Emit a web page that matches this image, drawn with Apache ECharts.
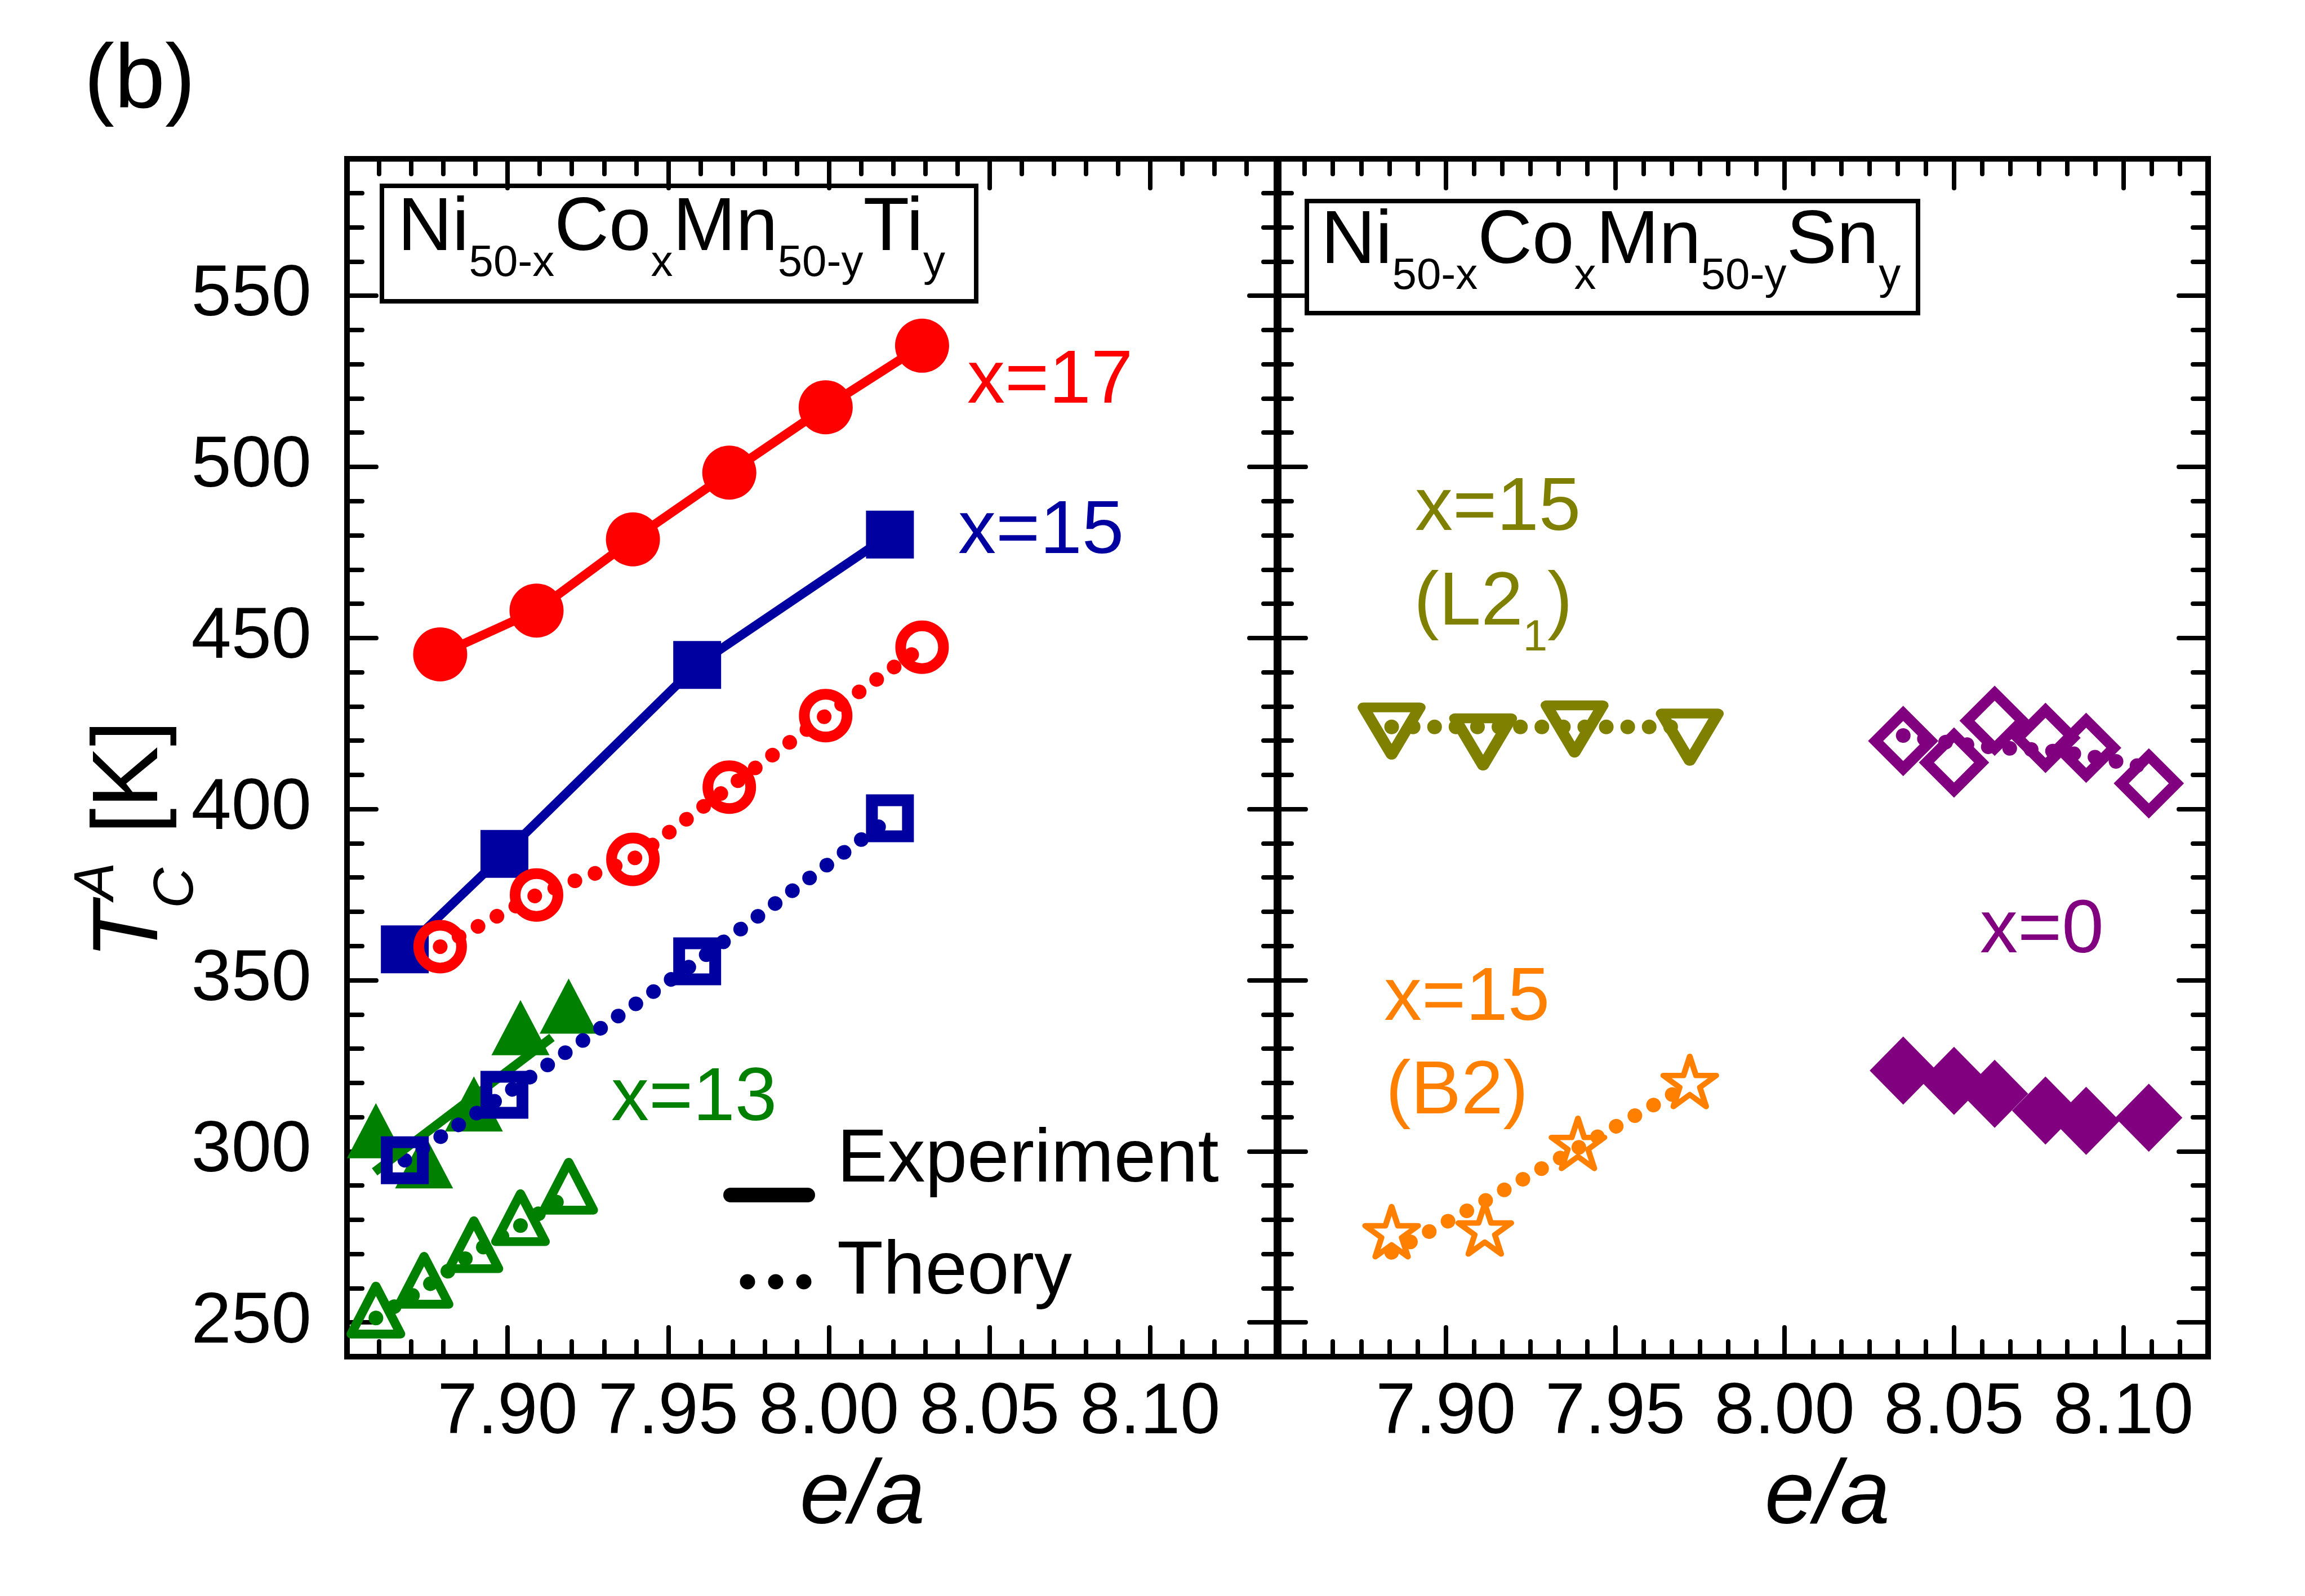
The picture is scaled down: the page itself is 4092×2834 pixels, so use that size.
<!DOCTYPE html>
<html>
<head>
<meta charset="utf-8">
<script src="https://cdn.jsdelivr.net/npm/echarts@6/dist/echarts.min.js"></script>
<style>
html,body{margin:0;padding:0;background:#ffffff;}
#chart{width:4092px;height:2834px;}
</style>
</head>
<body>
<div id="chart"></div>
<script>
// ---------------- axis ranges and tick labels ----------------
const yRange = [240, 590];
const yTickValues = [250, 300, 350, 400, 450, 500, 550];
const xRangeTi = [7.85, 8.14];
const xRangeSn = [7.85, 8.125];
const xTickValues = [7.90, 7.95, 8.00, 8.05, 8.10];

// ---------------- left panel: Ni50-xCoxMn50-yTiy ----------------
const tiX17Exp = [[7.879, 445.2], [7.909, 458.0], [7.939, 478.8], [7.969, 498.3], [7.999, 517.4], [8.029, 535.4]];
const tiX15Exp = [[7.868, 359.0], [7.899, 386.9], [7.959, 442.1], [8.019, 480.2]];
const tiX13Exp = [[7.859, 303.4], [7.874, 294.6], [7.8895, 311.2], [7.904, 333.5], [7.919, 339.8]];
const tiX13ExpFit = [[7.8586, 294.0], [7.9138, 333.3]];
const tiX17Theory = [[7.879, 359.8], [7.909, 374.9], [7.939, 385.3], [7.969, 406.4], [7.999, 427.3], [8.029, 447.3]];
const tiX15Theory = [[7.868, 297.4], [7.899, 316.5], [7.959, 355.5], [8.019, 397.3]];
const tiX13Theory = [[7.859, 251.3], [7.874, 260.0], [7.8895, 270.4], [7.904, 278.3], [7.919, 287.5]];

// ---------------- right panel: Ni50-xCoxMn50-ySny ----------------
const snX15L21 = [[7.884, 425.1], [7.911, 421.9], [7.938, 425.7], [7.972, 423.3]];
const snX15L21Theory = [[7.884, 424.0], [7.911, 424.0], [7.938, 424.0], [7.972, 424.0]];
const snX15B2 = [[7.884, 275.7], [7.9115, 276.5], [7.939, 301.5], [7.972, 319.6]];
const snX15B2Theory = [[7.884, 270.5], [7.9115, 285.5], [7.939, 301.0], [7.972, 319.5]];
const snX0Open = [[8.035, 419.9], [8.050, 413.6], [8.062, 425.8], [8.077, 420.8], [8.089, 417.9], [8.1075, 407.5]];
const snX0Theory = [[8.035, 421.5], [8.050, 419.2], [8.062, 418.0], [8.077, 417.2], [8.089, 415.7], [8.1075, 412.0]];
const snX0Exp = [[8.035, 323.6], [8.050, 320.6], [8.062, 316.8], [8.077, 311.9], [8.089, 308.9], [8.1075, 309.8]];

// ---------------- styling ----------------
const FONT = '"Liberation Sans", Arial, Helvetica, sans-serif';
const RED = '#ff0000', BLUE = '#0000a0', GREEN = '#008000', OLIVE = '#808000',
      ORANGE = '#ff8000', PURPLE = '#800080', BLACK = '#000000', NONE = 'rgba(0,0,0,0)';
const TRI_UP = 'path://M50,0L100,100L0,100Z';
const TRI_DOWN = 'path://M0,0L100,0L50,100Z';
const STAR = 'path://M0,-1000L224.5,-309L951.1,-309L363.3,118L587.8,809L0,382L-587.8,809L-363.3,118L-951.1,-309L-224.5,-309Z';
const DOTS = [0.1, 38];

function minorTicks(min, max, step, majorStep) {
  const out = [];
  const n = Math.round((max - min) / step);
  for (let k = 1; k < n; k++) {
    const v = +(min + k * step).toFixed(6);
    const r = v / majorStep;
    if (Math.abs(r - Math.round(r)) > 1e-6) out.push(v);
  }
  return out;
}
const yMinor = minorTicks(yRange[0], yRange[1], 10, 50);
const xMinorTi = minorTicks(xRangeTi[0], xRangeTi[1], 0.01, 0.05);
const xMinorSn = minorTicks(xRangeSn[0], xRangeSn[1], 0.05 / 6, 0.05);

const grids = [
  {left: 616, top: 282, width: 1654, height: 2127},
  {left: 2266, top: 282, width: 1654, height: 2127}
];

function axis(gridIndex, position, range, ticks, major, opts) {
  const a = {
    type: 'value', gridIndex, position, min: range[0], max: range[1],
    splitLine: {show: false}, minorTick: {show: false}, axisPointer: {show: false},
    axisLine: {show: major, onZero: false, lineStyle: {color: BLACK, width: 10, cap: 'square'}},
    axisTick: {show: true, inside: true, length: major ? 52 : 27, customValues: ticks,
               lineStyle: {color: BLACK, width: 8, cap: 'round'}},
    axisLabel: {show: false}
  };
  return Object.assign(a, opts || {});
}
const xLabel = {show: true, customValues: xTickValues, margin: 37, color: BLACK,
  fontSize: 128, fontFamily: FONT, formatter: v => Number(v).toFixed(2)};
const yLabel = {show: true, customValues: yTickValues, margin: 63, color: BLACK,
  fontSize: 128, fontFamily: FONT, padding: [0, 0, 14, 0], formatter: v => String(v)};
const xName = (shift) => ({name: 'e/a', nameLocation: 'middle', nameGap: 170,
  nameTextStyle: {fontSize: 160, fontStyle: 'italic', fontFamily: FONT, color: BLACK, padding: [0, 0, 0, 2 * shift]}});

const xAxes = [
  axis(0, 'bottom', xRangeTi, xTickValues, true, Object.assign({axisLabel: xLabel}, xName(88))),
  axis(0, 'bottom', xRangeTi, xMinorTi, false),
  axis(0, 'top', xRangeTi, xTickValues, true),
  axis(0, 'top', xRangeTi, xMinorTi, false),
  axis(1, 'bottom', xRangeSn, xTickValues, true, Object.assign({axisLabel: xLabel}, xName(151))),
  axis(1, 'bottom', xRangeSn, xMinorSn, false),
  axis(1, 'top', xRangeSn, xTickValues, true),
  axis(1, 'top', xRangeSn, xMinorSn, false)
];
const yAxes = [
  axis(0, 'left', yRange, yTickValues, true, {axisLabel: yLabel}),
  axis(0, 'left', yRange, yMinor, false),
  axis(0, 'right', yRange, yTickValues, true),
  axis(0, 'right', yRange, yMinor, false),
  axis(1, 'left', yRange, yTickValues, true),
  axis(1, 'left', yRange, yMinor, false),
  axis(1, 'right', yRange, yTickValues, true),
  axis(1, 'right', yRange, yMinor, false)
];

function base(type, name, data, panel) {
  return {type, name, data, xAxisIndex: panel * 4, yAxisIndex: panel * 4,
          animation: false, silent: true, clip: false};
}
function solidLine(name, data, color, symbol, size) {
  return Object.assign(base('line', name, data, 0), {
    symbol, symbolSize: size, showSymbol: true,
    itemStyle: {color, opacity: 1}, lineStyle: {color, width: 16}
  });
}
function dottedLine(name, data, color, panel, marker) {
  const s = Object.assign(base('line', name, data, panel), {
    lineStyle: {color, width: 26, type: DOTS, cap: 'round'}, showSymbol: !!marker
  });
  if (marker) Object.assign(s, marker);
  else s.symbol = 'none';
  return s;
}
function openMarker(symbol, size, color, bw, offset, join) {
  return {symbol, symbolSize: size, symbolOffset: offset || [0, 0],
          itemStyle: {color: NONE, borderColor: color, borderWidth: bw, borderJoin: join || 'miter', opacity: 1}};
}
function filledScatter(name, data, panel, symbol, size, color, offset) {
  return Object.assign(base('scatter', name, data, panel), {
    symbol, symbolSize: size, symbolOffset: offset || [0, 0], itemStyle: {color, opacity: 1}});
}

const series = [
  // left panel
  solidLine('x=17 Experiment', tiX17Exp, RED, 'circle', 96),
  solidLine('x=15 Experiment', tiX15Exp, BLUE, 'rect', 85),
  filledScatter('x=13 Experiment', tiX13Exp, 0, TRI_UP, [103, 98], GREEN, [0, -16]),
  dottedLine('x=15 Theory', tiX15Theory, BLUE, 0, openMarker('rect', 64, BLUE, 21)),
  Object.assign(base('line', 'x=13 Experiment fit', tiX13ExpFit, 0), {
    symbol: 'none', lineStyle: {color: GREEN, width: 16}}),
  dottedLine('x=17 Theory', tiX17Theory, RED, 0, openMarker('circle', 76, RED, 19)),
  dottedLine('x=13 Theory', tiX13Theory, GREEN, 0, openMarker(TRI_UP, [88, 85], GREEN, 16, [0, -14], 'round')),
  // right panel
  dottedLine('x=15 (L21) Theory', snX15L21Theory, OLIVE, 1),
  Object.assign(base('scatter', 'x=15 (L21)', snX15L21, 1), openMarker(TRI_DOWN, [100, 84], OLIVE, 19, [0, 14], 'round')),
  dottedLine('x=15 (B2) Theory', snX15B2Theory, ORANGE, 1),
  Object.assign(base('scatter', 'x=15 (B2)', snX15B2, 1), openMarker(STAR, [94, 89], ORANGE, 10, [0, -5], 'round')),
  dottedLine('x=0 Theory', snX0Theory, PURPLE, 1),
  Object.assign(base('scatter', 'x=0 open', snX0Open, 1), openMarker('diamond', 98, PURPLE, 19)),
  filledScatter('x=0 Experiment', snX0Exp, 1, 'diamond', [119, 121], PURPLE)
];

// ---------------- text annotations ----------------
const MAIN = 134, SUB = 78, SUB_DROP = 43;
const measureCtx = document.createElement('canvas').getContext('2d');
function fontStr(size, style) { return (style || 'normal') + ' ' + size + 'px ' + FONT; }
function textWidth(text, size) { measureCtx.font = fontStr(size); return measureCtx.measureText(text).width; }

function txt(text, x, baseline, color, size, style) {
  return {type: 'text', x, y: baseline - 0.3465 * size, silent: true, z: 100,
    style: {text, fill: color, font: fontStr(size, style),
            align: 'left', verticalAlign: 'middle', textAlign: 'left', textVerticalAlign: 'middle'}};
}
function rotTxt(text, x, y, size, style) {
  const t = txt(text, x, 0, BLACK, size, style);
  t.y = y; t.rotation = Math.PI / 2;
  return t;
}
// sequence of [text, isSub] pieces laid out left to right
function subscripted(pieces, x, baseline, color) {
  const out = [];
  let cx = x;
  pieces.forEach(([t, sub]) => {
    const size = sub ? SUB : MAIN;
    out.push(txt(t, cx, baseline + (sub ? SUB_DROP : 0), color, size));
    cx += textWidth(t, size);
  });
  return out;
}
const formulaTi = [['Ni', 0], ['50-x', 1], ['Co', 0], ['x', 1], ['Mn', 0], ['50-y', 1], ['Ti', 0], ['y', 1]];
const formulaSn = [['Ni', 0], ['50-x', 1], ['Co', 0], ['x', 1], ['Mn', 0], ['50-y', 1], ['Sn', 0], ['y', 1]];
const phaseL21 = [['(L2', 0], ['1', 1], [')', 0]];

const graphics = [
  txt('(b)', 149, 202, BLACK, 162),
  // composition boxes
  {type: 'rect', shape: {x: 678, y: 330, width: 1055, height: 205}, z: 99,
   style: {fill: NONE, stroke: BLACK, lineWidth: 8}},
  ...subscripted(formulaTi, 706, 453, BLACK),
  {type: 'rect', shape: {x: 2320, y: 357, width: 1085, height: 199}, z: 99,
   style: {fill: NONE, stroke: BLACK, lineWidth: 8}},
  ...subscripted(formulaSn, 2345, 476, BLACK),
  // series labels
  txt('x=17', 1717, 724, RED, MAIN),
  txt('x=15', 1701, 991, BLUE, MAIN),
  txt('x=13', 1085, 1998, GREEN, MAIN),
  txt('x=15', 2512, 950, OLIVE, MAIN),
  ...subscripted(phaseL21, 2510, 1118, OLIVE),
  txt('x=0', 3515, 1700, PURPLE, MAIN),
  txt('x=15', 2457, 1820, ORANGE, MAIN),
  txt('(B2)', 2460, 1986, ORANGE, MAIN),
  // legend
  {type: 'line', shape: {x1: 1297, y1: 2122, x2: 1434, y2: 2122}, z: 100,
   style: {stroke: BLACK, lineWidth: 26, lineCap: 'round'}},
  {type: 'circle', shape: {cx: 1327, cy: 2276, r: 13.5}, z: 100, style: {fill: BLACK}},
  {type: 'circle', shape: {cx: 1377, cy: 2276, r: 13.5}, z: 100, style: {fill: BLACK}},
  {type: 'circle', shape: {cx: 1427, cy: 2276, r: 13.5}, z: 100, style: {fill: BLACK}},
  txt('Experiment', 1486, 2107, BLACK, MAIN),
  txt('Theory', 1486, 2306, BLACK, MAIN),
  // y axis title T_C^A [K]
  rotTxt('T', 233, 1703, 165, 'italic'),
  rotTxt('C', 314, 1613, 100, 'italic'),
  rotTxt('A', 173, 1598, 100, 'italic'),
  rotTxt('[K]', 233, 1481, 165)
];

const chart = echarts.init(document.getElementById('chart'), null, {renderer: 'canvas'});
chart.setOption({
  backgroundColor: '#ffffff',
  animation: false,
  grid: grids,
  xAxis: xAxes,
  yAxis: yAxes,
  series,
  graphic: {elements: graphics}
});
</script>
</body>
</html>
